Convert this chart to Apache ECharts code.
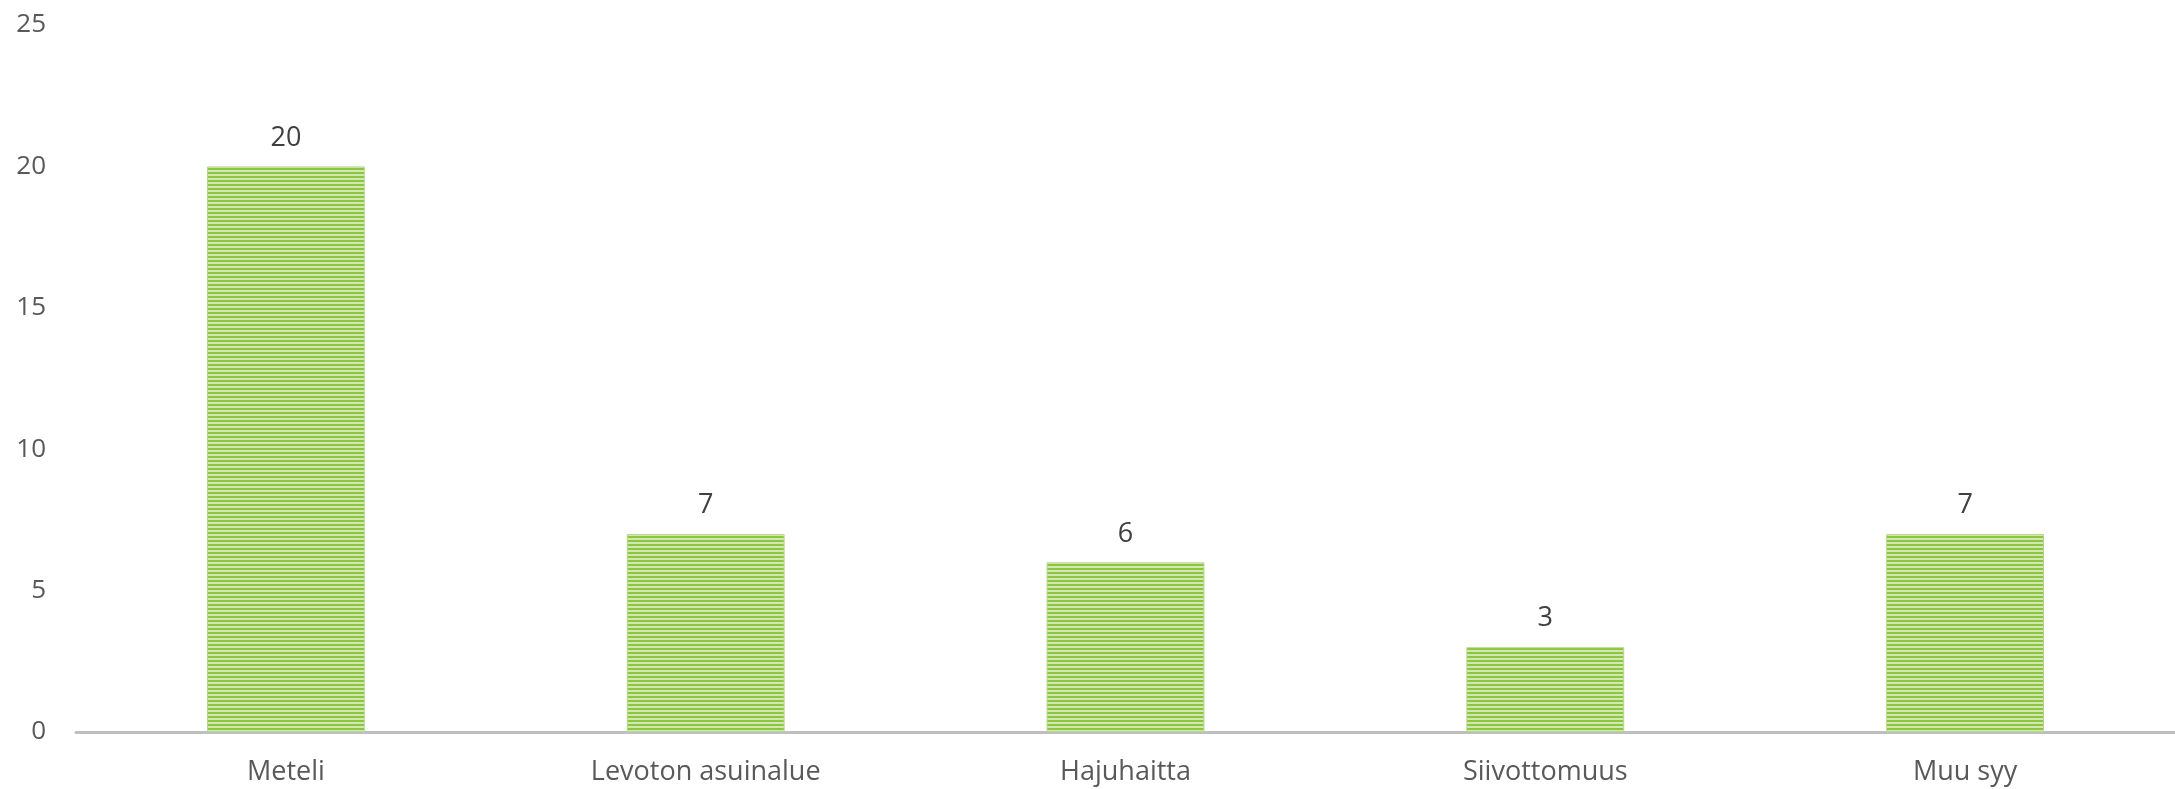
<!DOCTYPE html>
<html>
<head>
<meta charset="utf-8">
<script src="https://cdn.jsdelivr.net/npm/echarts@6/dist/echarts.min.js"></script>
<style>
html,body{margin:0;padding:0;background:#fff;}
#chart{width:2175px;height:789px;}
</style>
</head>
<body>
<div id="chart"></div>
<script>
const categories = ["Meteli", "Levoton asuinalue", "Hajuhaitta", "Siivottomuus", "Muu syy"];
const values = [20, 7, 6, 3, 7];
const yTicks = [0, 5, 10, 15, 20, 25];

function stripe() {
  const c = document.createElement('canvas');
  c.width = 4; c.height = 4;
  const ctx = c.getContext('2d');
  ctx.fillStyle = '#d2e8b4';
  ctx.fillRect(0, 0, 4, 4);
  ctx.fillStyle = '#8cc63f';
  ctx.fillRect(0, 0, 4, 2);
  return c;
}

const FONT = '"Open Sans"';
const chart = echarts.init(document.getElementById('chart'));
chart.setOption({
  animation: false,
  grid: { left: 76, right: 0, top: 25, bottom: 57 },
  xAxis: {
    type: 'category',
    data: categories,
    axisLine: { lineStyle: { color: '#bfbfbf', width: 3 } },
    axisTick: { show: false },
    axisLabel: { color: '#595959', fontSize: 27, fontFamily: FONT, margin: 27 }
  },
  yAxis: {
    type: 'value',
    min: yTicks[0],
    max: yTicks[yTicks.length - 1],
    interval: 5,
    splitLine: { show: false },
    axisLine: { show: false },
    axisTick: { show: false },
    axisLabel: { color: '#595959', fontSize: 26, fontFamily: FONT, margin: 30 }
  },
  series: [{
    type: 'bar',
    data: values,
    barWidth: '37.6%',
    itemStyle: {
      color: { image: stripe(), repeat: 'repeat' },
      borderColor: '#b5d98a',
      borderWidth: 1
    },
    label: {
      show: true,
      position: 'top',
      distance: 15,
      color: '#404040',
      fontSize: 27,
      fontFamily: FONT
    }
  }]
});
</script>
</body>
</html>
